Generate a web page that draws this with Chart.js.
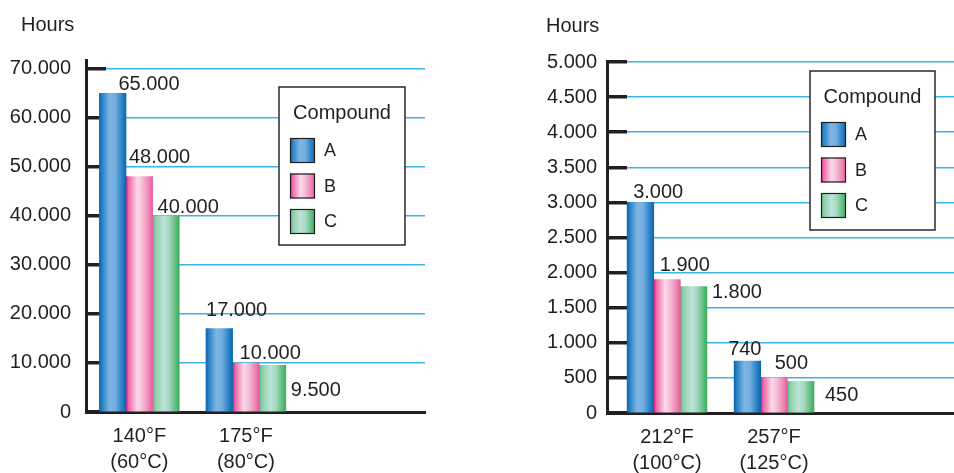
<!DOCTYPE html>
<html>
<head>
<meta charset="utf-8">
<script src="https://cdn.jsdelivr.net/npm/chart.js@4.4.1/dist/chart.umd.min.js"></script>
<style>
  html, body { margin: 0; padding: 0; background: #ffffff; }
  #wrap { position: relative; width: 954px; height: 473px; overflow: hidden; }
  canvas { position: absolute; top: 0; }
  #lowTemp { left: 0; }
  #highTemp { left: 477px; }
</style>
</head>
<body>
<div id="wrap">
  <canvas id="lowTemp" width="477" height="473"></canvas>
  <canvas id="highTemp" width="477" height="473"></canvas>
</div>
<script>
// ---- data ----
const compounds = ['A', 'B', 'C'];

// Lower test temperatures
const tempsLow = [['140°F', '(60°C)'], ['175°F', '(80°C)']];
const hoursLowA = [65000, 17000];
const hoursLowB = [48000, 10000];
const hoursLowC = [40000, 9500];
const ticksLow = [0, 10000, 20000, 30000, 40000, 50000, 60000, 70000];

// Higher test temperatures
const tempsHigh = [['212°F', '(100°C)'], ['257°F', '(125°C)']];
const hoursHighA = [3000, 740];
const hoursHighB = [1900, 500];
const hoursHighC = [1800, 450];
const ticksHigh = [0, 500, 1000, 1500, 2000, 2500, 3000, 3500, 4000, 4500, 5000];

// ---- styling ----
const INK = '#231f20';
const GRID = '#3ab4e6';
const FONT = '"Liberation Sans", Arial, Helvetica, sans-serif';

// cylinder-like shading across each bar (A blue, B pink, C green)
const barShades = [
  [[0, '#0966ae'], [0.12, '#2d85c9'], [0.38, '#7db5e2'], [0.6, '#72aee0'], [0.86, '#2a80c5'], [1, '#0a67b0']],
  [[0, '#e3137b'], [0.1, '#ee67a6'], [0.42, '#fbd9e8'], [0.6, '#f6bfd8'], [0.88, '#ec7fb1'], [1, '#e65a9d']],
  [[0, '#5ab87c'], [0.12, '#8ecfac'], [0.42, '#bde3d7'], [0.62, '#a5d9c3'], [0.88, '#5cbb7b'], [1, '#38ae5a']]
];

const fmt = n => String(n).replace(/\B(?=(\d{3})+(?!\d))/g, '.');

function shade(ctx, di, x0, x1) {
  const g = ctx.createLinearGradient(x0, 0, x1, 0);
  barShades[di].forEach(([o, c]) => g.addColorStop(o, c));
  return g;
}

// paints each bar with its gradient, spanning the bar's own width
const shadeBars = {
  id: 'shadeBars',
  beforeDatasetsDraw(chart) {
    const ctx = chart.ctx;
    chart.data.datasets.forEach((ds, di) => {
      chart.getDatasetMeta(di).data.forEach(bar => {
        const { x, width } = bar.getProps(['x', 'width'], true);
        bar.options.backgroundColor = shade(ctx, di, x - width / 2, x + width / 2);
      });
    });
  }
};

// value printed next to each bar
const valueLabels = {
  id: 'valueLabels',
  afterDatasetsDraw(chart, args, opts) {
    const ctx = chart.ctx;
    ctx.save();
    ctx.font = '20px ' + FONT;
    ctx.fillStyle = INK;
    ctx.textAlign = 'left';
    ctx.textBaseline = 'alphabetic';
    chart.data.datasets.forEach((ds, di) => {
      chart.getDatasetMeta(di).data.forEach((bar, i) => {
        const { x, y, width } = bar.getProps(['x', 'y', 'width'], true);
        const [side, dx, dy] = opts.place[di][i];
        const left = side === 'right' ? x + width / 2 : x - width / 2;
        ctx.fillText(fmt(ds.data[i].y), left + dx, y + dy);
      });
    });
    ctx.restore();
  }
};

// boxed key with title, plus the unit caption above the value axis
const compoundKey = {
  id: 'compoundKey',
  afterDraw(chart, args, o) {
    const ctx = chart.ctx;
    ctx.save();
    ctx.fillStyle = INK;
    ctx.font = '20px ' + FONT;
    ctx.textAlign = 'left';
    ctx.textBaseline = 'alphabetic';
    ctx.fillText(o.unit, o.unitX, o.unitY);

    ctx.fillStyle = '#ffffff';
    ctx.fillRect(o.x, o.y, o.w, o.h);
    ctx.strokeStyle = '#2a2a2a';
    ctx.lineWidth = 1.5;
    ctx.strokeRect(o.x, o.y, o.w, o.h);

    ctx.fillStyle = INK;
    ctx.textAlign = 'center';
    ctx.fillText(o.title, o.x + o.w / 2, o.y + 32);

    chart.data.datasets.forEach((ds, di) => {
      const sx = o.x + 11, sy = o.y + 51 + di * 35.5, s = 25;
      ctx.fillStyle = shade(ctx, di, sx, sx + s);
      ctx.fillRect(sx, sy, s, s);
      ctx.strokeStyle = '#1e1e1e';
      ctx.lineWidth = 1.2;
      ctx.strokeRect(sx + 0.5, sy + 0.5, s - 1, s - 1);
      ctx.fillStyle = INK;
      ctx.textAlign = 'left';
      ctx.textBaseline = 'middle';
      ctx.font = '18px ' + FONT;
      ctx.fillText(ds.label, sx + s + 9, sy + s / 2 + 1);
      ctx.font = '20px ' + FONT;
      ctx.textBaseline = 'alphabetic';
    });
    ctx.restore();
  }
};

function makeChart(canvasId, cfg) {
  const seriesList = [cfg.a, cfg.b, cfg.c];
  return new Chart(document.getElementById(canvasId), {
    type: 'bar',
    data: {
      datasets: seriesList.map((vals, di) => ({
        label: compounds[di],
        data: vals.map((v, i) => ({ x: i + 0.5, y: v })),
        backgroundColor: () => '#888888',
        borderWidth: 0,
        barThickness: 26.6,
        grouped: true
      }))
    },
    options: {
      responsive: false,
      devicePixelRatio: 1,
      animation: false,
      events: [],
      layout: { padding: cfg.padding },
      font: { family: FONT },
      scales: {
        x: {
          type: 'linear',
          offset: false,
          min: cfg.xMin,
          max: cfg.xMax,
          afterFit: s => { s.height = cfg.xHeight; },
          afterBuildTicks: s => { s.ticks = cfg.cats.map((c, i) => ({ value: i + 0.5 })); },
          grid: { display: false, drawTicks: false, offset: false },
          border: { display: true, color: INK, width: 3 },
          ticks: {
            autoSkip: false,
            maxRotation: 0,
            padding: 11,
            color: INK,
            font: { family: FONT, size: 20, lineHeight: 1.32 },
            callback: (v, i) => cfg.cats[i]
          }
        },
        y: {
          type: 'linear',
          min: 0,
          max: cfg.yMax,
          afterFit: s => { s.width = cfg.yWidth; },
          afterBuildTicks: s => { s.ticks = cfg.yTicks.map(v => ({ value: v })); },
          grid: {
            color: GRID,
            lineWidth: 1.5,
            drawTicks: true,
            tickLength: -20,
            tickColor: INK,
            tickWidth: 3.5
          },
          border: { display: true, color: INK, width: 3 },
          ticks: {
            padding: cfg.yPad,
            color: INK,
            font: { family: FONT, size: 20 },
            callback: v => fmt(v)
          }
        }
      },
      plugins: {
        legend: { display: false },
        tooltip: { enabled: false },
        valueLabels: { place: cfg.place },
        compoundKey: cfg.key
      }
    },
    plugins: [shadeBars, valueLabels, compoundKey]
  });
}

makeChart('lowTemp', {
  a: hoursLowA, b: hoursLowB, c: hoursLowC,
  cats: tempsLow, yTicks: ticksLow,
  yMax: 71800, xMin: 0, xMax: 3.18,
  yWidth: 86, xHeight: 61, yPad: 35,
  padding: { left: 0, right: 52, top: 60, bottom: 0 },
  place: [
    [['top', 19, -3], ['top', 0, -13]],
    [['top', 3, -14], ['top', 7, -4]],
    [['top', 5, -3], ['right', 5, 31]]
  ],
  key: { title: 'Compound', x: 279, y: 87, w: 126, h: 158, unit: 'Hours', unitX: 21, unitY: 31 }
});

makeChart('highTemp', {
  a: hoursHighA, b: hoursHighB, c: hoursHighC,
  cats: tempsHigh, yTicks: ticksHigh,
  yMax: 5000, xMin: -0.061, xMax: 3.182,
  yWidth: 130, xHeight: 60, yPad: 30,
  padding: { left: 0, right: 0, top: 62, bottom: 0 },
  place: [
    [['top', 6, -4], ['top', -6, -6]],
    [['top', 6, -9], ['top', 14, -9]],
    [['right', 5, 11.5], ['right', 11, 20]]
  ],
  key: { title: 'Compound', x: 333, y: 71, w: 125, h: 159, unit: 'Hours', unitX: 69, unitY: 32 }
});
</script>
</body>
</html>
